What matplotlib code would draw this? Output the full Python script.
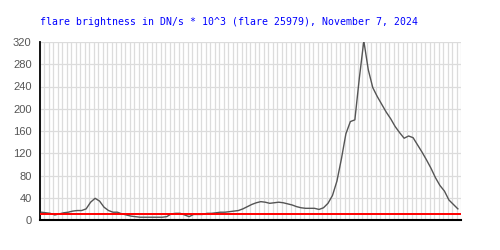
import matplotlib
matplotlib.use("Agg")
import matplotlib.pyplot as plt
import numpy as np

title = "flare brightness in DN/s * 10^3 (flare 25979), November 7, 2024"
threshold = 10
y_ticks = [0, 40, 80, 120, 160, 200, 240, 280, 320]

# one reading per grid column
brightness = [14, 13, 12, 9, 11, 13, 14, 16, 17, 17,
              20, 32, 39, 34, 23, 17, 14, 14, 11, 9,
              7, 6, 5, 5, 5, 5, 5, 5, 6, 11,
              12, 12, 9, 6, 10, 10, 10, 12, 12, 13,
              14, 14, 15, 16, 17, 20, 24, 28, 31, 33,
              32, 30, 31, 32, 31, 29, 27, 24, 22, 21,
              21, 21, 19, 22, 30, 44, 70, 110, 155, 177,
              180, 255, 322, 270, 238, 222, 208, 194, 182, 168,
              157, 147, 151, 148, 135, 122, 108, 93, 76, 62,
              52, 36, 28, 20]
n_cols = 94

fig = plt.figure(figsize=(5, 2.5), dpi=100)
ax = fig.add_axes([40 / 500, 30 / 250, 421 / 500, 178 / 250])

x = np.arange(len(brightness)) + 0.3
ax.plot(x, brightness, color='#555555', lw=1.0, zorder=3, clip_on=True)
ax.axhline(threshold, color='#ff0000', lw=1.4, zorder=4)

ax.set_xlim(0, n_cols)
ax.set_ylim(0, 320)
ax.set_xticks(np.arange(0, n_cols + 1, 1))
ax.set_yticks(y_ticks)
ax.set_xticklabels([])
ax.grid(True, color='#dcdcdc', lw=0.9, zorder=0)
ax.tick_params(axis='both', length=0, pad=6)
ax.tick_params(axis='y', labelsize=8, labelcolor='#555555')
for lbl in ax.get_yticklabels():
    lbl.set_family('Liberation Sans')

for side in ['top', 'right']:
    ax.spines[side].set_visible(False)
ax.spines['left'].set_color('black')
ax.spines['bottom'].set_color('black')
ax.spines['left'].set_linewidth(1.3)
ax.spines['bottom'].set_linewidth(1.5)
ax.set_axisbelow(True)

fig.text(40 / 500, 1 - 22 / 250, title, color='#0000ff', fontsize=7.15,
         family='DejaVu Sans Mono', va='center', ha='left')

fig.savefig('out.png', dpi=100, facecolor='white')
